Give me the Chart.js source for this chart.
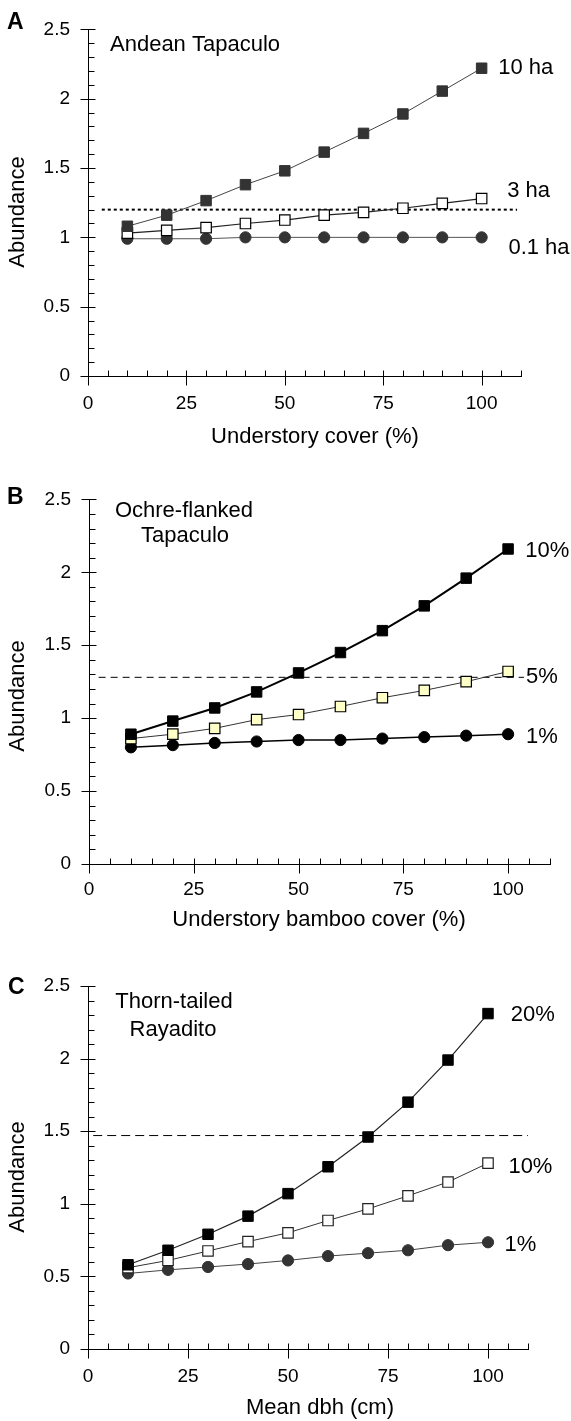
<!DOCTYPE html>
<html><head><meta charset="utf-8">
<script src="https://cdn.jsdelivr.net/npm/chart.js@4.4.1/dist/chart.umd.min.js"></script>
<style>
html,body{margin:0;padding:0;background:#fff;}
#wrap{position:relative;width:571px;height:1421px;overflow:hidden;background:#fff;}
canvas{position:absolute;left:0;}
</style></head><body>
<div id="wrap">
<canvas id="cA" width="571" height="470" style="top:0px"></canvas>
<canvas id="cB" width="571" height="480" style="top:470px"></canvas>
<canvas id="cC" width="571" height="471" style="top:950px"></canvas>
</div>
<script>
// ---------- data ----------
const xValues = [10, 20, 30, 40, 50, 60, 70, 80, 90, 100];

// Panel A: Andean Tapaculo, understory cover (%)
const andean10ha = [1.08, 1.16, 1.265, 1.38, 1.48, 1.615, 1.75, 1.89, 2.055, 2.22];
const andean3ha  = [1.03, 1.05, 1.07, 1.10, 1.125, 1.16, 1.18, 1.21, 1.245, 1.28];
const andean01ha = [0.99, 0.99, 0.99, 1.0, 1.0, 1.0, 1.0, 1.0, 1.0, 1.0];
const andeanRefLevel = 1.2;
const andeanRefSpan = [3.5, 109];

// Panel B: Ochre-flanked Tapaculo, understory bamboo cover (%)
const ochre10 = [0.89, 0.98, 1.07, 1.18, 1.31, 1.45, 1.60, 1.77, 1.96, 2.16];
const ochre5  = [0.86, 0.89, 0.93, 0.99, 1.025, 1.08, 1.14, 1.19, 1.25, 1.32];
const ochre1  = [0.80, 0.815, 0.83, 0.84, 0.85, 0.85, 0.86, 0.87, 0.88, 0.89];
const ochreRefLevel = 1.28;
const ochreRefSpan = [2.3, 103.8];

// Panel C: Thorn-tailed Rayadito, mean dbh (cm)
const thorn20 = [0.58, 0.68, 0.79, 0.915, 1.07, 1.255, 1.46, 1.70, 1.99, 2.31];
const thorn10 = [0.56, 0.61, 0.675, 0.74, 0.80, 0.885, 0.965, 1.055, 1.15, 1.28];
const thorn1  = [0.52, 0.545, 0.565, 0.585, 0.61, 0.64, 0.66, 0.68, 0.715, 0.735];
const thornRefLevel = 1.47;
const thornRefSpan = [1.3, 110];

// axis ticks
const xMajorStep = 25, xMinorStep = 5, xMax = 110;
const yMajorStep = 0.5, yMinorStep = 0.1, yMax = 2.5;

// ---------- rendering ----------
const FONT = "'Liberation Sans', Arial, Helvetica, sans-serif";
Chart.defaults.font.family = FONT;
Chart.defaults.color = '#000';

const tickMarks = {
  id: 'tickMarks',
  afterDraw(chart) {
    const c = chart.ctx, xs = chart.scales.x, ys = chart.scales.y;
    c.save(); c.strokeStyle = '#000'; c.lineWidth = 1; c.beginPath();
    const y0 = Math.round(xs.top) + 0.5;
    xs.ticks.forEach(t => {
      const px = Math.round(xs.getPixelForValue(t.value)) + 0.5;
      const maj = Math.round(t.value) % xMajorStep === 0;
      c.moveTo(px, y0 - 6); c.lineTo(px, y0 + (maj ? 9 : 0));
    });
    const x0 = Math.round(ys.right) + 0.5;
    ys.ticks.forEach(t => {
      const py = Math.round(ys.getPixelForValue(t.value)) + 0.5;
      const maj = Math.round(t.value * 10) % 5 === 0;
      c.moveTo(x0 - (maj ? 8 : 0), py); c.lineTo(x0 + (maj ? 7 : 6), py);
    });
    c.stroke(); c.restore();
  }
};

function textPlugin(p) {
  return {
    id: 'texts',
    afterDraw(chart) {
      const c = chart.ctx, xs = chart.scales.x, ys = chart.scales.y;
      c.save(); c.fillStyle = '#000';
      c.font = 'bold 23px ' + FONT; c.textAlign = 'left'; c.textBaseline = 'alphabetic';
      c.fillText(p.letter[0], p.letter[1], p.letter[2]);
      c.font = '22px ' + FONT;
      p.title.forEach(l => { c.textAlign = l[3]; c.fillText(l[0], l[1], l[2]); });
      c.textAlign = 'left'; c.textBaseline = 'middle';
      p.seriesLabels.forEach(l => {
        c.fillText(l[0], xs.getPixelForValue(l[1]), ys.getPixelForValue(l[2]));
      });
      c.textAlign = 'center';
      c.fillText(p.xTitle[0], p.xTitle[1], p.xTitle[2]);
      c.translate(p.yTitle[1], p.yTitle[2]); c.rotate(-Math.PI / 2);
      c.fillText(p.yTitle[0], 0, 0);
      c.restore();
    }
  };
}

function buildPanel(id, p) {
  const el = document.getElementById(id);
  const H = el.height;
  const datasets = p.series.map((s, i) => ({
    data: xValues.map((x, j) => ({ x, y: s.values[j] })),
    borderColor: s.line, borderWidth: s.lineWidth,
    pointStyle: s.shape, pointRadius: s.shape === 'rect' ? 7.4 : 5.6,
    pointBackgroundColor: s.fill, pointBorderColor: s.edge, pointBorderWidth: s.edgeWidth,
    tension: 0, order: i + 1, clip: false
  }));
  datasets.push({
    data: p.refSpan.map(x => ({ x, y: p.refLevel })),
    borderColor: '#000', borderWidth: p.refWidth, borderDash: p.refDash,
    pointRadius: 0, tension: 0, order: 10
  });
  return new Chart(el, {
    type: 'line',
    data: { datasets },
    options: {
      responsive: false, animation: false, devicePixelRatio: 1,
      layout: { padding: { top: p.area.top, right: 571 - p.area.right, left: 0, bottom: 0 } },
      plugins: { legend: { display: false }, tooltip: { enabled: false } },
      scales: {
        x: {
          type: 'linear', min: 0, max: xMax,
          afterFit: s => { s.height = H - p.area.bottom; },
          grid: { display: true, drawOnChartArea: false, drawTicks: false },
          border: { display: true, color: '#000', width: 1 },
          ticks: {
            stepSize: xMinorStep, autoSkip: false, maxRotation: 0, minRotation: 0,
            padding: p.xPad, color: '#000', font: { size: 19 },
            callback: v => (Math.round(v) % xMajorStep === 0 ? String(Math.round(v)) : '')
          }
        },
        y: {
          type: 'linear', min: 0, max: yMax,
          afterFit: s => { s.width = p.area.left; },
          grid: { display: true, drawOnChartArea: false, drawTicks: false },
          border: { display: true, color: '#000', width: 1 },
          ticks: {
            stepSize: yMinorStep, autoSkip: false, padding: 18, color: '#000', font: { size: 19 },
            callback: v => { const r = Math.round(v * 10); return r % 5 === 0 ? String(r / 10) : ''; }
          }
        }
      }
    },
    plugins: [tickMarks, textPlugin(p)]
  });
}

buildPanel('cA', {
  area: { left: 88, top: 20, right: 521, bottom: 376 },
  xPad: 16,
  series: [
    { values: andean10ha, line: '#444', lineWidth: 1, shape: 'rect', fill: '#333', edge: '#333', edgeWidth: 1 },
    { values: andean3ha, line: '#222', lineWidth: 1.2, shape: 'rect', fill: '#fff', edge: '#000', edgeWidth: 1.2 },
    { values: andean01ha, line: '#555', lineWidth: 1, shape: 'circle', fill: '#333', edge: '#333', edgeWidth: 1 }
  ],
  refLevel: andeanRefLevel, refSpan: andeanRefSpan, refDash: [3, 3], refWidth: 2,
  letter: ['A', 7, 29],
  title: [['Andean Tapaculo', 110, 51, 'left']],
  seriesLabels: [['10 ha', 104.2, 2.22], ['3 ha', 106.5, 1.334], ['0.1 ha', 106.8, 0.927]],
  xTitle: ['Understory cover (%)', 315, 437],
  yTitle: ['Abundance', 18, 212]
});

buildPanel('cB', {
  area: { left: 89, top: 24, right: 550, bottom: 394 },
  xPad: 14.5,
  series: [
    { values: ochre10, line: '#000', lineWidth: 2, shape: 'rect', fill: '#000', edge: '#000', edgeWidth: 1 },
    { values: ochre5, line: '#333', lineWidth: 1, shape: 'rect', fill: '#ffffc8', edge: '#000', edgeWidth: 1.2 },
    { values: ochre1, line: '#000', lineWidth: 1.5, shape: 'circle', fill: '#000', edge: '#000', edgeWidth: 1 }
  ],
  refLevel: ochreRefLevel, refSpan: ochreRefSpan, refDash: [7, 5], refWidth: 1,
  letter: ['B', 7, 34],
  title: [['Ochre-flanked', 184, 47, 'center'], ['Tapaculo', 185, 72, 'center']],
  seriesLabels: [['10%', 104.1, 2.144], ['5%', 104.3, 1.284], ['1%', 104.3, 0.872]],
  xTitle: ['Understory bamboo cover (%)', 319, 450],
  yTitle: ['Abundance', 18, 226]
});

buildPanel('cC', {
  area: { left: 88, top: 36, right: 528, bottom: 399 },
  xPad: 16,
  series: [
    { values: thorn20, line: '#222', lineWidth: 1.2, shape: 'rect', fill: '#000', edge: '#000', edgeWidth: 1 },
    { values: thorn10, line: '#333', lineWidth: 1, shape: 'rect', fill: '#fff', edge: '#222', edgeWidth: 1.2 },
    { values: thorn1, line: '#444', lineWidth: 1, shape: 'circle', fill: '#333', edge: '#333', edgeWidth: 1 }
  ],
  refLevel: thornRefLevel, refSpan: thornRefSpan, refDash: [9, 5], refWidth: 1,
  letter: ['C', 8, 44],
  title: [['Thorn-tailed', 174, 58, 'center'], ['Rayadito', 173, 86, 'center']],
  seriesLabels: [['20%', 105.7, 2.30], ['10%', 105.1, 1.256], ['1%', 104.1, 0.716]],
  xTitle: ['Mean dbh (cm)', 320, 458],
  yTitle: ['Abundance', 18, 227]
});
</script>
</body></html>
